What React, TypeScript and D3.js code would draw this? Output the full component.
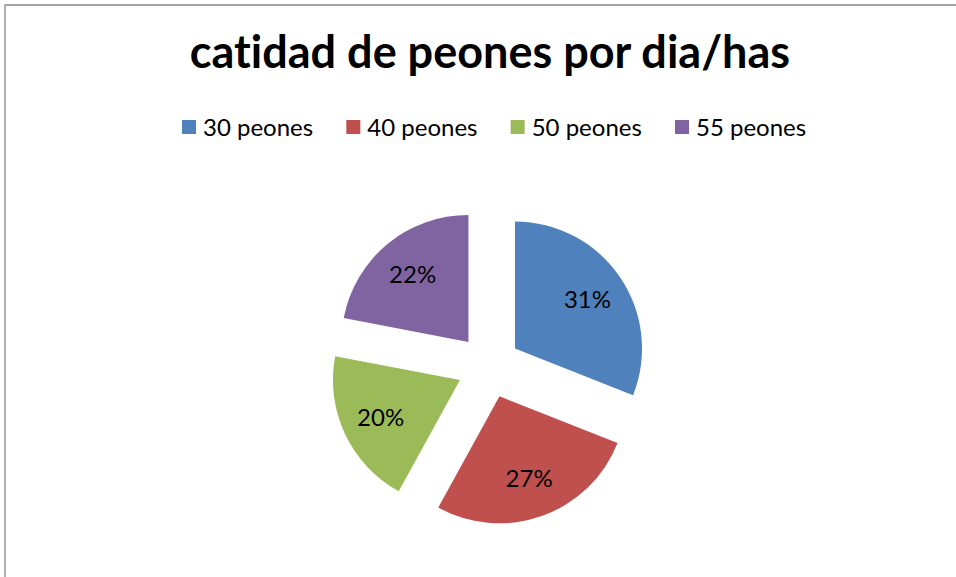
import React, { useEffect, useRef } from 'react';
import * as d3 from 'd3';

const categories = ['30 peones', '40 peones', '50 peones', '55 peones'];
const values = [31, 27, 20, 22];
const colors = ['#4f81bd', '#c0504d', '#9bbb59', '#8064a2'];
const title = 'catidad de peones por dia/has';

const W = 956;
const H = 577;
const FONT = 'Lato, "Open Sans", sans-serif';

function drawChart(container: SVGSVGElement) {
  const svg = d3.select(container);
  svg.selectAll('*').remove();

  svg.append('rect').attr('width', W).attr('height', H).attr('fill', '#fff');

  // chart area border (only top + left visible in the crop)
  svg.append('path')
    .attr('d', `M5,${H} L5,5 L${W},5`)
    .attr('fill', 'none')
    .attr('stroke', '#868686')
    .attr('stroke-width', 1.3);

  // title
  svg.append('text')
    .attr('x', 490)
    .attr('y', 68)
    .attr('text-anchor', 'middle')
    .attr('font-family', FONT)
    .attr('font-weight', 'bold')
    .attr('font-size', 45)
    .style('font-variant-ligatures', 'none')
    .attr('fill', '#000')
    .text(title);

  // legend
  const legendX = d3.scalePoint<string>().domain(categories).range([182, 675]);
  const legend = svg.append('g').selectAll('g')
    .data(categories)
    .enter().append('g')
    .attr('transform', d => `translate(${legendX(d)},120)`);
  legend.append('rect')
    .attr('width', 14)
    .attr('height', 14)
    .attr('fill', (d, i) => colors[i]);
  legend.append('text')
    .attr('x', 21)
    .attr('y', 16)
    .attr('font-family', FONT)
    .attr('font-size', 24)
    .attr('fill', '#000')
    .text(d => d);

  // exploded pie
  const cx = 488.7, cy = 366.4, r = 127, explode = 31.8;
  const pie = d3.pie<number>().sort(null).value(d => d);
  const arcs = pie(values);
  const arc = d3.arc<d3.PieArcDatum<number>>().innerRadius(0).outerRadius(r);
  const labelArc = d3.arc<d3.PieArcDatum<number>>().innerRadius(r * 0.69).outerRadius(r * 0.69);

  const slices = svg.append('g')
    .attr('transform', `translate(${cx},${cy})`)
    .selectAll('g')
    .data(arcs)
    .enter().append('g')
    .attr('transform', d => {
      const mid = (d.startAngle + d.endAngle) / 2;
      return `translate(${explode * Math.sin(mid)},${-explode * Math.cos(mid)})`;
    });

  slices.append('path')
    .attr('d', arc)
    .attr('fill', (d, i) => colors[i]);

  slices.append('text')
    .attr('transform', d => `translate(${labelArc.centroid(d)})`)
    .attr('text-anchor', 'middle')
    .attr('dy', '0.35em')
    .attr('font-family', FONT)
    .attr('font-size', 24)
    .attr('fill', '#000')
    .text(d => `${d.data}%`);
}

export default function App() {
  const ref = useRef<SVGSVGElement>(null);
  useEffect(() => {
    if (ref.current) drawChart(ref.current);
  }, []);
  return (
    <svg
      ref={ref}
      width={W}
      height={H}
      style={{ position: 'absolute', left: 0, top: 0, display: 'block' }}
    />
  );
}
